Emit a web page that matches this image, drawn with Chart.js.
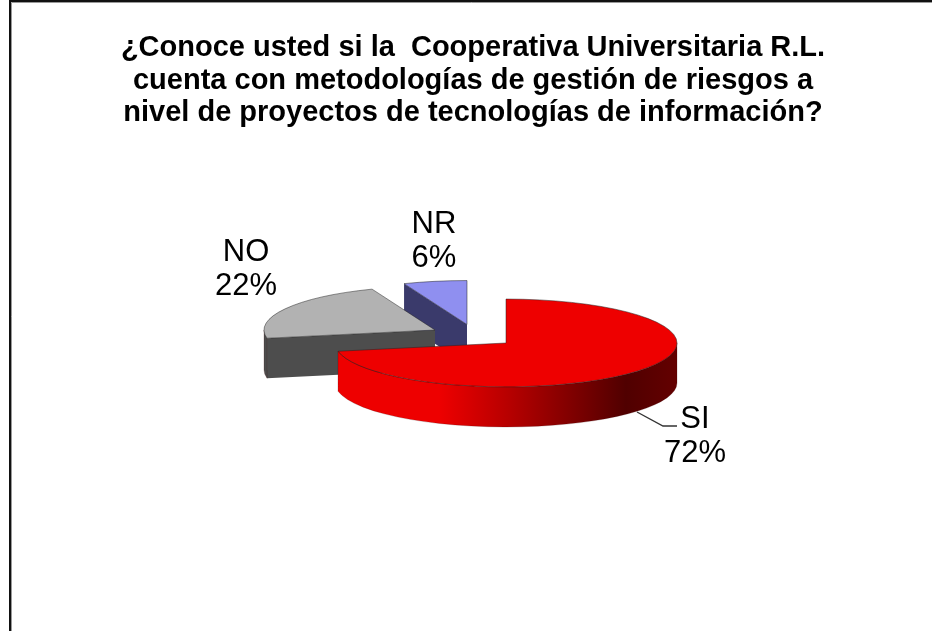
<!DOCTYPE html>
<html>
<head>
<meta charset="utf-8">
<style>
  html, body { margin: 0; padding: 0; background: #fff; }
  #wrap { width: 932px; height: 631px; }
</style>
<script src="https://cdn.jsdelivr.net/npm/chart.js@4"></script>
</head>
<body>
<div id="wrap"><canvas id="ctx1" width="932" height="631"></canvas></div>
<script>
var titleLines = [
  '¿Conoce usted si la  Cooperativa Universitaria R.L.',
  'cuenta con metodologías de gestión de riesgos a',
  'nivel de proyectos de tecnologías de información?'
];
var categories = ['SI', 'NO', 'NR'];
var percents = [72, 22, 6];

var topColors = ['#ee0000', '#b2b2b2', '#8f8ff0'];
var wallColors = ['#8a0000', '#4d4d4d', '#3a3a6b'];

// where each slice sits on the page, the picture does not explode them evenly
var sliceCentres = [[506, 343], [435, 330], [467, 324.5]];
var labelCentres = [[695, 419], [246, 252], [434, 224]];
var radius = 171;
var squash = 0.257;
var depth = 40;

function traceWall(ctx, c, from, to) {
  // outer wall between two angles, top rim then bottom rim
  ctx.beginPath();
  ctx.ellipse(c[0], c[1], radius, radius * squash, 0, from, to);
  ctx.ellipse(c[0], c[1] + depth, radius, radius * squash, 0, to, from, true);
  ctx.closePath();
}

function drawCutWall(ctx, c, angle, color) {
  var ex = c[0] + Math.cos(angle) * radius;
  var ey = c[1] + Math.sin(angle) * radius * squash;
  ctx.beginPath();
  ctx.moveTo(c[0], c[1]);
  ctx.lineTo(ex, ey);
  ctx.lineTo(ex, ey + depth);
  ctx.lineTo(c[0], c[1] + depth);
  ctx.closePath();
  ctx.fillStyle = color;
  ctx.fill();
}

function siWall(ctx) {
  var g = ctx.createLinearGradient(337, 0, 677, 0);
  g.addColorStop(0, '#ee0000');
  g.addColorStop(0.3, '#ee0000');
  g.addColorStop(0.5, '#b80000');
  g.addColorStop(0.85, '#500000');
  g.addColorStop(1, '#640000');
  return g;
}

var pie3d = {
  id: 'pie3d',
  beforeDatasetDraw: function(chart, args) {
    var ctx = chart.ctx;
    var arcs = args.meta.data;
    // back to front so the big slice covers the others
    [2, 1, 0].forEach(function(i) {
      var arc = arcs[i];
      var c = sliceCentres[i];
      var p = arc.getProps(['x', 'y', 'startAngle', 'endAngle']);

      if (Math.cos(p.startAngle) < -0.01) {
        drawCutWall(ctx, c, p.startAngle, wallColors[i]);
      }
      if (Math.cos(p.endAngle) > 0.01) {
        drawCutWall(ctx, c, p.endAngle, wallColors[i]);
      }
      var from = Math.max(p.startAngle, 0);
      var to = Math.min(p.endAngle, Math.PI);
      if (to > from) {
        traceWall(ctx, c, from, to);
        ctx.fillStyle = i == 0 ? siWall(ctx) : wallColors[i];
        ctx.fill();
        ctx.strokeStyle = 'rgba(60,0,0,0.35)';
        ctx.lineWidth = 0.6;
        ctx.stroke();
      }

      ctx.save();
      ctx.translate(c[0], c[1]);
      ctx.scale(1, squash);
      ctx.translate(-p.x, -p.y);
      arc.draw(ctx);
      ctx.restore();
    });
    return false;
  },
  afterDraw: function(chart) {
    var ctx = chart.ctx;
    ctx.save();

    // frame: only the top and left sides show in the picture
    ctx.strokeStyle = '#999';
    ctx.lineWidth = 1;
    ctx.beginPath();
    ctx.moveTo(11.5, 631);
    ctx.lineTo(11.5, 2.5);
    ctx.lineTo(932, 2.5);
    ctx.stroke();
    ctx.strokeStyle = '#111';
    ctx.lineWidth = 2;
    ctx.beginPath();
    ctx.moveTo(10, 631);
    ctx.lineTo(10, 1);
    ctx.lineTo(932, 1);
    ctx.stroke();

    // leader for SI
    ctx.strokeStyle = '#333';
    ctx.lineWidth = 1.4;
    ctx.beginPath();
    ctx.moveTo(637, 412);
    ctx.lineTo(663, 426);
    ctx.lineTo(677, 426);
    ctx.stroke();

    ctx.fillStyle = '#000';
    ctx.textAlign = 'center';
    ctx.textBaseline = 'middle';

    ctx.font = 'bold 29px "Liberation Sans"';
    titleLines.forEach(function(line, i) {
      ctx.fillText(line, 473, 48 + i * 32.5);
    });

    ctx.font = '31px "Liberation Sans"';
    categories.forEach(function(name, i) {
      var spot = labelCentres[i];
      ctx.fillText(name, spot[0], spot[1]);
      ctx.fillText(percents[i] + '%', spot[0], spot[1] + 34);
    });
    ctx.restore();
  }
};

new Chart(document.getElementById('ctx1'), {
  type: 'pie',
  plugins: [pie3d],
  data: {
    labels: categories,
    datasets: [{
      data: percents,
      backgroundColor: topColors,
      borderColor: '#222',
      borderWidth: 0.8,
      borderAlign: 'center',
      radius: radius,
    }],
  },
  options: {
    responsive: false,
    animation: {
      duration: 0,
    },
    plugins: {
      legend: {
        display: false,
      },
      tooltip: {
        enabled: false,
      },
    },
  },
});
</script>
</body>
</html>
